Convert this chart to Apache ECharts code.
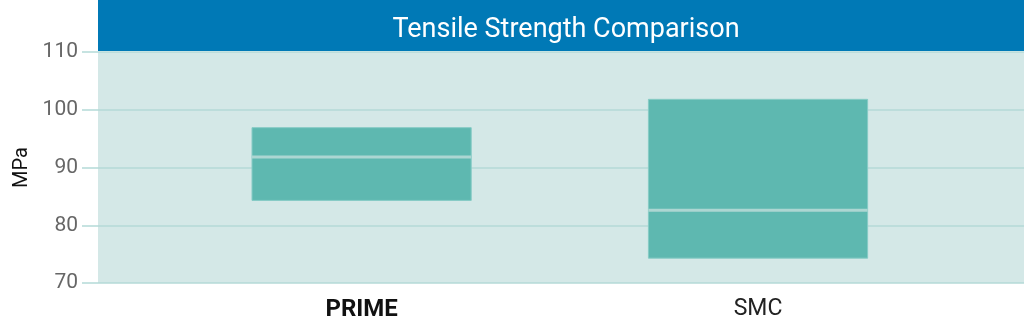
<!DOCTYPE html>
<html>
<head>
<meta charset="utf-8">
<script src="https://cdn.jsdelivr.net/npm/echarts@6/dist/echarts.min.js"></script>
<style>
html,body{margin:0;padding:0;background:#fff;}
#chart{width:1024px;height:329px;}
</style>
</head>
<body>
<div id="chart"></div>
<script>
// ---- data ----
var categories = ['PRIME', 'SMC'];
var q1Values = [84.3, 74.3];
var medianValues = [91.8, 82.6];
var q3Values = [96.9, 101.8];
var yTicks = [70, 80, 90, 100, 110];
var titleText = 'Tensile Strength Comparison';
var yAxisName = 'MPa';

// ---- build ----
var seriesData = categories.map(function (c, i) {
  return [i, q1Values[i], medianValues[i], q3Values[i]];
});

var chart = echarts.init(document.getElementById('chart'));
var gridColor = '#b4dad7';
var boxWidthUnits = 0.553;

chart.setOption({
  animation: false,
  backgroundColor: '#ffffff',
  graphic: [{
    type: 'rect',
    left: 98, top: 0,
    shape: { width: 926, height: 51 },
    style: { fill: '#0079b6' },
    z: 0
  }],
  title: {
    text: titleText,
    left: 561,
    textAlign: 'center',
    top: 12,
    textStyle: { color: '#ffffff', fontSize: 27, fontWeight: 'normal', fontFamily: 'Roboto' }
  },
  grid: {
    left: 98, right: 0, top: 52, bottom: 46,
    show: true, backgroundColor: '#d4e8e7', borderWidth: 0
  },
  xAxis: {
    type: 'value',
    min: -0.665, max: 1.671,
    axisLine: { show: false, onZero: false },
    axisTick: { show: false },
    splitLine: { show: false },
    axisLabel: {
      customValues: [0, 1],
      margin: 15,
      formatter: function (v) {
        var i = Math.round(v);
        return i === 0 ? '{b|' + categories[i] + '}' : '{n|' + categories[i] + '}';
      },
      rich: {
        b: { fontSize: 24, fontWeight: 'bold', color: '#111', fontFamily: 'Roboto' },
        n: { fontSize: 23, color: '#222', fontFamily: 'Roboto' }
      }
    }
  },
  yAxis: {
    type: 'value',
    min: 70, max: 110, interval: 10,
    name: yAxisName,
    nameLocation: 'middle',
    nameGap: 66,
    nameRotate: 90,
    nameTextStyle: { color: '#111', fontSize: 20, fontFamily: 'Roboto' },
    axisLine: { show: false, onZero: false },
    axisTick: { show: true, length: 16, lineStyle: { color: gridColor, width: 1.5 } },
    axisLabel: { color: '#666', fontSize: 21, margin: 20, fontFamily: 'Roboto', padding: [4, 0, 0, 0],
      formatter: function (v) { return yTicks.indexOf(v) >= 0 ? String(v) : ''; } },
    splitLine: { show: true, lineStyle: { color: gridColor, width: 1.5 } }
  },
  series: [{
    type: 'custom',
    data: seriesData,
    encode: { x: 0, y: [1, 2, 3] },
    z: 5,
    renderItem: function (params, api) {
      var x = api.value(0);
      var lo = api.coord([x, api.value(1)]);
      var med = api.coord([x, api.value(2)]);
      var hi = api.coord([x, api.value(3)]);
      var w = api.size([boxWidthUnits, 0])[0];
      return {
        type: 'group',
        children: [{
          type: 'rect',
          shape: { x: lo[0] - w / 2, y: hi[1], width: w, height: lo[1] - hi[1] },
          style: { fill: '#5eb8b0', stroke: '#86cbc5', lineWidth: 1 }
        }, {
          type: 'line',
          shape: { x1: lo[0] - w / 2, y1: med[1], x2: lo[0] + w / 2, y2: med[1] },
          style: { stroke: '#acd6d2', lineWidth: 3 }
        }]
      };
    }
  }]
});
</script>
</body>
</html>
